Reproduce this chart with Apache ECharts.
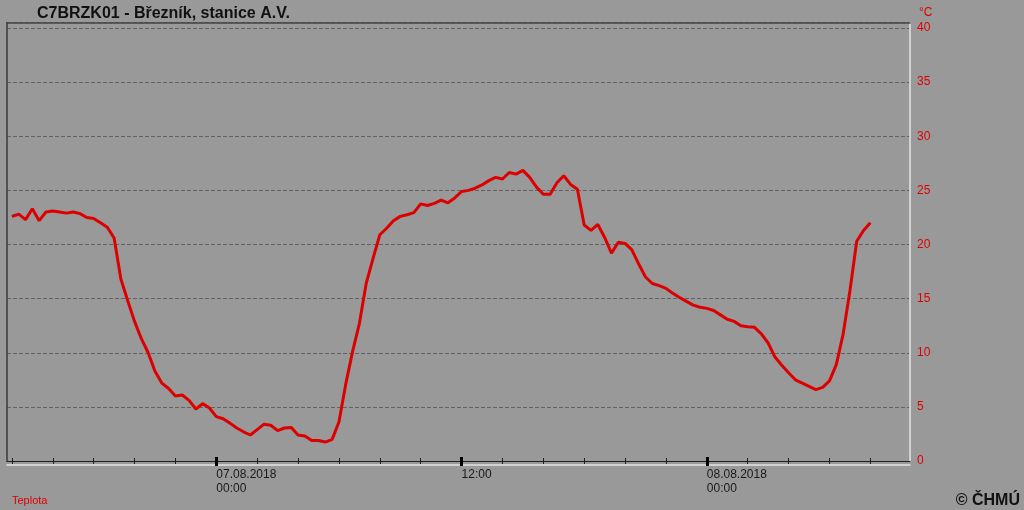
<!DOCTYPE html>
<html>
<head>
<meta charset="utf-8">
<script src="https://cdn.jsdelivr.net/npm/echarts@6/dist/echarts.min.js"></script>
<style>
html,body{margin:0;padding:0;background:#999999;}
#chart{width:1024px;height:510px;}
</style>
</head>
<body>
<div id="chart"></div>
<script>
// Station title
const chartTitle = 'C7BRZK01 - Březník, stanice A.V.';
const seriesName = 'Teplota';
const unitName = '°C';
const copyright = '© ČHMÚ';

// Time: hours relative to 07.08.2018 00:00; first reading 06.08.2018 14:00, every 20 minutes
const startHour = -10;
const stepMinutes = 20;

// Air temperature [°C]
const temperature = [
  22.6, 22.8, 22.3, 23.3, 22.2, 23.0, 23.1, 23.0, 22.9, 23.0,
  22.85, 22.5, 22.4, 22.0, 21.6, 20.6, 16.8, 14.8, 12.9, 11.3,
  10.0, 8.3, 7.2, 6.7, 6.0, 6.1, 5.6, 4.8, 5.3, 4.9,
  4.1, 3.9, 3.5, 3.05, 2.7, 2.4, 2.9, 3.4, 3.3, 2.8,
  3.05, 3.1, 2.4, 2.3, 1.9, 1.9, 1.75, 2.0, 3.6, 7.1,
  10.1, 12.7, 16.4, 18.7, 20.9, 21.5, 22.2, 22.6, 22.75, 22.95,
  23.75, 23.6, 23.8, 24.1, 23.85, 24.3, 24.9, 25.0, 25.2, 25.5,
  25.9, 26.2, 26.05, 26.65, 26.5, 26.85, 26.2, 25.3, 24.65, 24.65,
  25.7, 26.35, 25.55, 25.1, 21.8, 21.3, 21.85, 20.65, 19.2, 20.2,
  20.1, 19.5, 18.2, 17.0, 16.4, 16.2, 15.95, 15.5, 15.1, 14.75,
  14.4, 14.2, 14.1, 13.9, 13.5, 13.1, 12.9, 12.5, 12.4, 12.35,
  11.75, 10.9, 9.6, 8.85, 8.15, 7.5, 7.2, 6.9, 6.6, 6.8,
  7.4, 8.9, 11.7, 15.7, 20.3, 21.3, 22.0
];

// Axis ticks (hours relative to 07.08.2018 00:00)
const minorTickHours = [-10, -8, -6, -4, -2, 0, 2, 4, 6, 8, 10, 12, 14, 16, 18, 20, 22, 24, 26, 28, 30, 32];
const majorTickHours = [0, 12, 24];
const majorTickLabels = ['07.08.2018\n00:00', '12:00', '08.08.2018\n00:00'];

const FONT = '"Liberation Sans", Arial, sans-serif';
const RED = '#e00000';

const chart = echarts.init(document.getElementById('chart'));

const seriesData = temperature.map((v, i) => [startHour + i * stepMinutes / 60, v]);

const xBase = {
  type: 'value', gridIndex: 0, min: -10.24, max: 33.94,
  splitLine: { show: false },
  axisLabel: { show: false },
  axisTick: { show: false },
  axisLine: { show: false, onZero: false }
};

const option = {
  animation: false,
  backgroundColor: '#999999',
  textStyle: { fontFamily: FONT },
  title: [
    { text: chartTitle, left: 37, top: 6, padding: 0,
      textStyle: { fontSize: 16, fontWeight: 'bold', color: '#111', fontFamily: FONT } },
    { text: copyright, right: 4, top: 493, padding: 0,
      textStyle: { fontSize: 16, fontWeight: 'bold', color: '#111', fontFamily: FONT } }
  ],
  legend: {
    data: [{ name: seriesName, icon: 'none' }],
    left: 7, top: 495, padding: 0, itemWidth: 0, itemHeight: 0,
    selectedMode: false,
    textStyle: { color: RED, fontSize: 11, fontFamily: FONT }
  },
  grid: { left: 7, right: 114, top: 22.6, bottom: 49, containLabel: false },
  xAxis: [
    Object.assign({}, xBase, {
      position: 'bottom',
      axisLine: { show: true, onZero: false, lineStyle: { color: '#1e1e1e', width: 1 } },
      axisTick: { show: true, inside: false, length: 3, customValues: minorTickHours,
        lineStyle: { color: '#1e1e1e', width: 1 } },
      axisLabel: { show: true, customValues: majorTickHours, margin: 6, align: 'left',
        color: '#1a1a1a', fontSize: 12, lineHeight: 14.5, fontFamily: FONT,
        formatter: v => { const i = majorTickHours.indexOf(v); return i >= 0 ? majorTickLabels[i] : ''; } }
    }),
    Object.assign({}, xBase, {
      position: 'bottom',
      axisTick: { show: true, inside: true, length: 3, customValues: minorTickHours,
        lineStyle: { color: '#1e1e1e', width: 1 } }
    }),
    Object.assign({}, xBase, {
      position: 'bottom',
      axisTick: { show: true, inside: false, length: 5, customValues: majorTickHours,
        lineStyle: { color: '#000', width: 3 } }
    }),
    Object.assign({}, xBase, {
      position: 'bottom',
      axisTick: { show: true, inside: true, length: 4, customValues: majorTickHours,
        lineStyle: { color: '#000', width: 3 } }
    }),
    Object.assign({}, xBase, {
      position: 'top',
      axisLine: { show: true, onZero: false, lineStyle: { color: '#444', width: 1.5 } }
    }),
    Object.assign({}, xBase, {
      position: 'bottom', offset: 4,
      axisLine: { show: true, onZero: false, lineStyle: { color: '#e4e4e4', width: 1.5 } }
    })
  ],
  yAxis: [
    {
      type: 'value', gridIndex: 0, position: 'right', min: 0, max: 40.5, interval: 5,
      name: unitName, nameLocation: 'end', nameGap: 4,
      nameTextStyle: { color: RED, fontSize: 12, align: 'left', padding: [0, 0, 0, 9], fontFamily: FONT },
      axisLine: { show: true, onZero: false, lineStyle: { color: '#e4e4e4', width: 1.5 } },
      axisTick: { show: false },
      axisLabel: { color: RED, fontSize: 12, margin: 7, fontFamily: FONT,
        formatter: v => (v % 5 === 0 ? String(v) : '') },
      splitLine: { show: true, lineStyle: { color: '#626262', width: 1, type: [4, 2] } }
    },
    {
      type: 'value', gridIndex: 0, position: 'left', min: 0, max: 1,
      axisLine: { show: true, onZero: false, lineStyle: { color: '#3a3a3a', width: 1.5 } },
      axisTick: { show: false }, axisLabel: { show: false }, splitLine: { show: false }
    }
  ],
  series: [
    {
      name: seriesName, type: 'line', xAxisIndex: 0, yAxisIndex: 0,
      data: seriesData, showSymbol: false, symbol: 'none',
      lineStyle: { color: '#dd0000', width: 3 },
      itemStyle: { color: '#dd0000' }
    }
  ]
};

chart.setOption(option);
</script>
</body>
</html>
